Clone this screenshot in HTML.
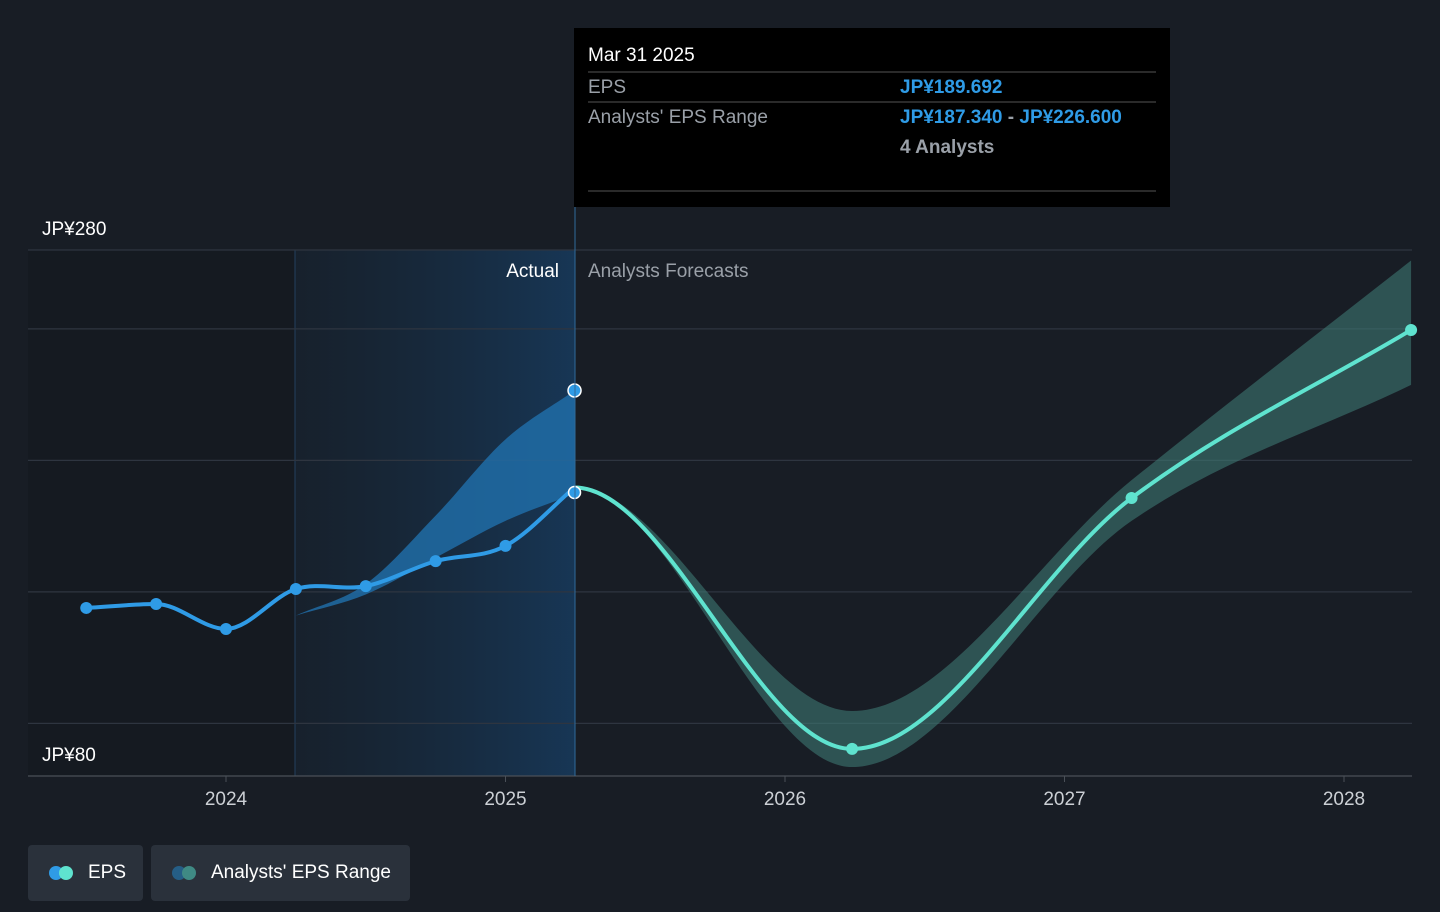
<!DOCTYPE html>
<html><head><meta charset="utf-8"><style>
html,body{margin:0;padding:0;background:#181d25;width:1440px;height:912px;overflow:hidden;font-family:"Liberation Sans","Noto Sans CJK JP",sans-serif}
svg{position:absolute;left:0;top:0}
.leg{position:absolute;top:845px;height:56px;background:#2a313b;border-radius:4px;color:#fff;font-size:19px;display:flex;align-items:center}
</style></head><body>
<svg id="chart" width="1440" height="912">
<defs>
<linearGradient id="actg" x1="0" x2="1" y1="0" y2="0"><stop offset="0" stop-color="#16283a" stop-opacity="0.35"/><stop offset="1" stop-color="#17416a" stop-opacity="0.7"/></linearGradient>
</defs>
<rect x="28" y="250" width="267" height="526" fill="#151a21"/>
<rect x="295" y="250" width="280" height="526" fill="url(#actg)"/>
<line x1="295" y1="250" x2="295" y2="776" stroke="#22405e" stroke-width="1"/>
<g id="grid"></g>
<g id="marks"></g>
<line x1="575" y1="207" x2="575" y2="776" stroke="#2f6a9a" stroke-width="1"/>
<text x="559" y="277" fill="#fff" font-size="19" text-anchor="end">Actual</text>
<text x="588" y="277" fill="#9aa0a8" font-size="19">Analysts Forecasts</text>
<g>
<rect x="574" y="28" width="596" height="179" fill="#000"/>
<text x="588" y="61" fill="#fff" font-size="19">Mar 31 2025</text>
<line x1="588" y1="72" x2="1156" y2="72" stroke="#555"/>
<text x="588" y="93" fill="#9aa0a8" font-size="19">EPS</text>
<text x="900" y="93" fill="#2f9be6" font-size="19" font-weight="bold">JP¥189.692</text>
<line x1="588" y1="102" x2="1156" y2="102" stroke="#555"/>
<text x="588" y="123" fill="#9aa0a8" font-size="19">Analysts' EPS Range</text>
<text x="900" y="123" fill="#2f9be6" font-size="19" font-weight="bold">JP¥187.340 <tspan fill="#9aa0a8">-</tspan> JP¥226.600</text>
<text x="900" y="153" fill="#9aa0a8" font-size="19" font-weight="bold">4 Analysts</text>
<line x1="588" y1="191" x2="1156" y2="191" stroke="#555"/>
</g>
</svg>
<div class="leg" style="left:28px;width:115px">
<span style="position:absolute;left:21px;width:14px;height:14px;border-radius:7px;background:#2f9be6"></span>
<span style="position:absolute;left:31px;width:14px;height:14px;border-radius:7px;background:#5fe3cf"></span>
<span style="position:absolute;left:60px">EPS</span></div>
<div class="leg" style="left:151px;width:259px">
<span style="position:absolute;left:21px;width:14px;height:14px;border-radius:7px;background:#255e86"></span>
<span style="position:absolute;left:31px;width:14px;height:14px;border-radius:7px;background:#3f8a84"></span>
<span style="position:absolute;left:60px">Analysts' EPS Range</span></div>
<script>
const yTicks=[280,250,200,150,100,80];
const yLabels=["JP¥280","JP¥80"];
const xTicks=[2024,2025,2026,2027,2028];
const epsX=[2023.5,2023.75,2024.0,2024.25,2024.5,2024.75,2025.0,2025.247];
const epsY=[143.9,145.4,135.9,151.1,152.2,161.7,167.5,189.69];
const rangeX=[2024.25,2024.5,2024.75,2025.0,2025.247];
const rangeLow=[141,149,163,177,187.34];
const rangeHigh=[141,153,179,208,226.6];
const fcX=[2025.247,2026.24,2027.24,2028.24];
const fcY=[189.69,90.3,185.7,249.6];
const fcLow=[189.69,83.4,177,228.7];
const fcHigh=[189.69,104.7,192.5,276];
const X=t=>226+(t-2024)*279.5;
const Y=v=>776-(v-80)*2.63;
const NS="http://www.w3.org/2000/svg";
function mk(tag,attrs,parent){const e=document.createElementNS(NS,tag);for(const k in attrs)e.setAttribute(k,attrs[k]);parent.appendChild(e);return e;}
function mono(pts,flatStart){const n=pts.length;if(n<2)return "";const d=[],m=[];for(let i=0;i<n-1;i++){d.push((pts[i+1][1]-pts[i][1])/(pts[i+1][0]-pts[i][0]));}
for(let i=0;i<n;i++){if(i==0)m.push(flatStart?0:d[0]);else if(i==n-1)m.push(d[n-2]);else{if(d[i-1]*d[i]<=0)m.push(0);else m.push((d[i-1]+d[i])/2);}}
let s="";for(let i=0;i<n-1;i++){const h=(pts[i+1][0]-pts[i][0])/3;s+=`C${pts[i][0]+h},${pts[i][1]+m[i]*h} ${pts[i+1][0]-h},${pts[i+1][1]-m[i+1]*h} ${pts[i+1][0]},${pts[i+1][1]}`;}return s;}
function line(xs,ys,f){const p=xs.map((x,i)=>[X(x),Y(ys[i])]);return "M"+p[0][0]+","+p[0][1]+mono(p,f);}
function area(xs,lo,hi,f){const a=xs.map((x,i)=>[X(x),Y(hi[i])]);const b=xs.map((x,i)=>[X(x),Y(lo[i])]);
const bp="M"+b[0][0]+","+b[0][1]+mono(b,f);
// reverse lower path by rebuilding reversed points
const br=b.slice().reverse();
return "M"+a[0][0]+","+a[0][1]+mono(a,f)+"L"+br[0][0]+","+br[0][1]+monoRev(b,f)+"Z";}
function monoRev(pts,flatStart){const n=pts.length;const d=[],m=[];for(let i=0;i<n-1;i++){d.push((pts[i+1][1]-pts[i][1])/(pts[i+1][0]-pts[i][0]));}
for(let i=0;i<n;i++){if(i==0)m.push(flatStart?0:d[0]);else if(i==n-1)m.push(d[n-2]);else{if(d[i-1]*d[i]<=0)m.push(0);else m.push((d[i-1]+d[i])/2);}}
let s="";for(let i=n-1;i>0;i--){const h=(pts[i][0]-pts[i-1][0])/3;s+=`C${pts[i][0]-h},${pts[i][1]-m[i]*h} ${pts[i-1][0]+h},${pts[i-1][1]+m[i-1]*h} ${pts[i-1][0]},${pts[i-1][1]}`;}return s;}
const g=document.getElementById("grid"),mks=document.getElementById("marks");
yTicks.forEach(v=>{const l=mk("line",{x1:28,x2:1412,y1:Y(v),y2:Y(v),stroke:v==80?"#4a5058":"#2e3540","stroke-width":1.3},g);

});
const yl1=mk("text",{x:42,y:235,fill:"#fff","font-size":19},g);yl1.textContent=yLabels[0];


const yl2=mk("text",{x:42,y:761,fill:"#fff","font-size":19},g);yl2.textContent=yLabels[1];


xTicks.forEach(t=>{mk("line",{x1:X(t),x2:X(t),y1:776,y2:782,stroke:"#4a5058"},g);const tx=mk("text",{x:X(t),y:805,fill:"#ccd0d5","font-size":19,"text-anchor":"middle"},g);tx.textContent=t;

});
const ra=mk("path",{d:area(rangeX,rangeLow,rangeHigh,false),fill:"#2170ad","fill-opacity":0.8},mks);


const fa=mk("path",{d:area(fcX,fcLow,fcHigh,true),fill:"#3d7873","fill-opacity":0.6},mks);


const fl=mk("path",{d:line(fcX,fcY,true),fill:"none",stroke:"#5fe3cf","stroke-width":4},mks);


const el=mk("path",{d:line(epsX,epsY,false),fill:"none",stroke:"#2f9be6","stroke-width":4},mks);


epsX.forEach((x,i)=>{const last=i==epsX.length-1;const c=mk("circle",{cx:X(x),cy:Y(epsY[i])+(last?5:0),r:6,fill:"#2f9be6",stroke:last?"#fff":"none","stroke-width":1.5},mks);

});
fcX.forEach((x,i)=>{if(i==0)return;const c=mk("circle",{cx:X(x),cy:Y(fcY[i]),r:6,fill:"#5fe3cf"},mks);

});
const rh=mk("circle",{cx:X(2025.247),cy:Y(rangeHigh[4]),r:6.5,fill:"#2f9be6",stroke:"#fff","stroke-width":1.5},mks);


</script>
</body></html>
